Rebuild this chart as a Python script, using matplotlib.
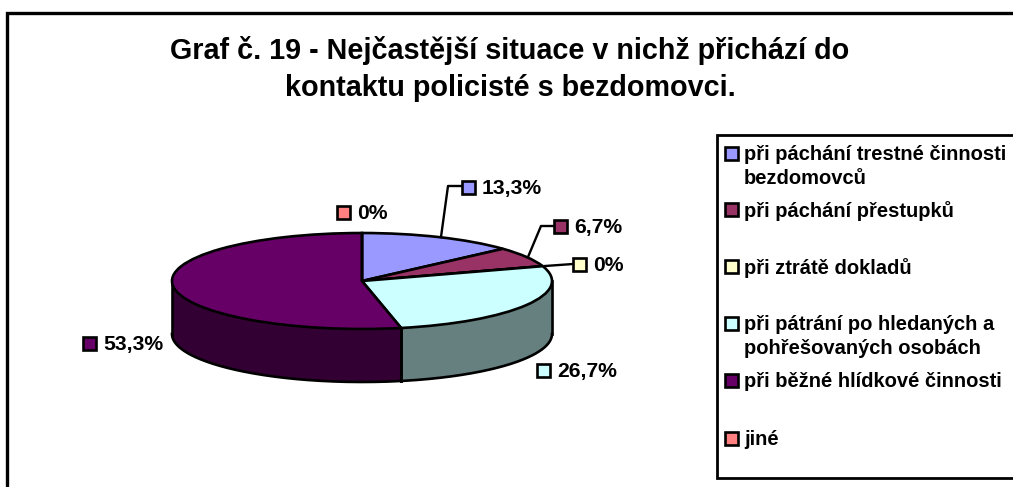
import numpy as np
import matplotlib
matplotlib.use("Agg")
import matplotlib.pyplot as plt
from matplotlib.patches import Rectangle

W, H = 1013, 487
title = "Graf č. 19 - Nejčastější situace v nichž přichází do\nkontaktu policisté s bezdomovci."
categories = ["při páchání trestné činnosti\nbezdomovců", "při páchání přestupků", "při ztrátě dokladů",
              "při pátrání po hledaných a\npohřešovaných osobách", "při běžné hlídkové činnosti", "jiné"]
values = [13.3, 6.7, 0, 26.7, 53.3, 0]
value_labels = ["13,3%", "6,7%", "0%", "26,7%", "53,3%", "0%"]
colors = ["#9999FF", "#993366", "#FFFFCC", "#CCFFFF", "#660066", "#FF8080"]
side_colors = ["#4C4C80", "#4C1933", "#808066", "#668080", "#330033", "#804040"]

plt.rcParams['font.family'] = ['Liberation Sans', 'DejaVu Sans']
fig = plt.figure(figsize=(W/100, H/100), dpi=100, facecolor="white")

def fx(x): return x / W
def fy(y): return 1 - y / H

bg = fig.add_axes([0, 0, 1, 1]); bg.set_xlim(0, W); bg.set_ylim(H, 0); bg.axis("off")
bg.add_patch(Rectangle((7, 13), W + 20, H + 20, fc="white", ec="black", lw=2.4, clip_on=True))
bg.add_patch(Rectangle((717, 135), W + 20, 343, fc="white", ec="black", lw=2.0, clip_on=True))
bg.text(510, 69, title, ha="center", va="center", fontsize=20.7, fontweight="bold", linespacing=1.39)

# pie axes: x -1..1 -> 172..552; y = 1 at top edge, wall depth below
cx0, cx1, ytop, rb = 172, 552, 233, 48
depth = 53 / rb
ybot = ytop + 2 * rb + depth * rb
ax = fig.add_axes([fx(cx0), fy(ybot), (cx1 - cx0) / W, (ybot - ytop) / H], zorder=2)
ax.patch.set_alpha(0)
frac = np.cumsum([0] + values) / sum(values) * 360  # clockwise from top
for i in range(len(values)):
    a0, a1 = max(frac[i], 90), min(frac[i + 1], 270)
    if a1 <= a0:
        continue
    t = np.radians(np.linspace(a0, a1, 200))
    x, y = np.sin(t), np.cos(t)
    ax.fill_between(x, y, y - depth, color=side_colors[i], lw=0, zorder=1)
    ax.plot(x, y - depth, color="black", lw=1.9, zorder=2)
    for k in (0, -1):
        ax.plot([x[k], x[k]], [y[k], y[k] - depth], color="black", lw=1.9, zorder=2)
wedges, _ = ax.pie(values, startangle=90, counterclock=False, colors=colors, radius=1,
                   wedgeprops=dict(edgecolor="black", linewidth=1.9, zorder=3), normalize=True)
ax.set_aspect("auto")
ax.set_xlim(-1, 1)
ax.set_ylim(-1 - depth, 1)
ax.axis("off")
for s in ax.patches: s.set_clip_on(False)
for s in ax.lines: s.set_clip_on(False)
for s in ax.collections: s.set_clip_on(False)

ov = fig.add_axes([0, 0, 1, 1], zorder=3); ov.set_xlim(0, W); ov.set_ylim(H, 0); ov.axis("off"); ov.patch.set_alpha(0)

def swatch(x, y, c):
    ov.add_patch(Rectangle((x, y - 6.5), 13, 13, fc=c, ec="black", lw=1.9))

# data labels: swatch-left x, centre y
label_pos = [(462, 187), (554, 226), (573, 264), (537, 370), (83, 343), (337, 212)]
for (x, y), c, s in zip(label_pos, colors, value_labels):
    swatch(x, y, c)
    ov.text(x + 20, y + 1.5, s, ha="left", va="center", fontsize=15.2, fontweight="bold")
ov.plot([441, 448, 461], [237, 186, 186], color="black", lw=1.7)
ov.plot([528, 541, 554], [257, 226, 226], color="black", lw=1.7)
ov.plot([545, 573], [266, 264], color="black", lw=1.7)

# legend: swatch-left x, centre y of first text line
leg_y = [153, 209, 266, 323, 380, 438]
for y, c, s in zip(leg_y, colors, categories):
    swatch(725, y, c)
    ov.text(744, y - 8, s, ha="left", va="top", fontsize=14.5, fontweight="bold", linespacing=1.34)

fig.savefig("out.png", dpi=100, facecolor="white")
